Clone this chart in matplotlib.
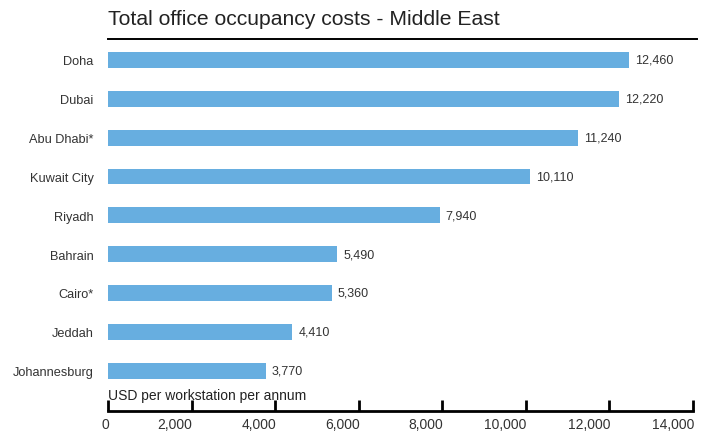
import matplotlib.pyplot as plt
from matplotlib.lines import Line2D
from matplotlib.ticker import FuncFormatter
import matplotlib.transforms as mtransforms

plt.rcParams['font.family'] = ['Liberation Sans', 'DejaVu Sans']

cities = ["Doha", "Dubai", "Abu Dhabi*", "Kuwait City", "Riyadh",
          "Bahrain", "Cairo*", "Jeddah", "Johannesburg"]
costs = [12460, 12220, 11240, 10110, 7940, 5490, 5360, 4410, 3770]
xticks = [0, 2000, 4000, 6000, 8000, 10000, 12000, 14000]

bar_color = "#67aee0"
text_color = "#333333"

fig = plt.figure(figsize=(7.08, 4.35), dpi=100)
W, H = 708, 435
ax = fig.add_axes([108 / W, (H - 412) / H, (693 - 108) / W, (412 - 40) / H])

pos = list(range(len(cities)))
ax.barh(pos, costs, height=0.41, color=bar_color)
for p, v in zip(pos, costs):
    ax.annotate(f"{v:,}", (v, p), xytext=(4.3, 0), textcoords="offset points",
                va="center", ha="left", fontsize=9, color=text_color)

ax.set_xlim(0, 14000)
ax.set_ylim(9.04, -0.54)
ax.set_yticks(pos)
ax.set_yticklabels(cities, fontsize=9.2, color=text_color)
ax.tick_params(axis="y", length=0, pad=10.5)

ax.set_xticks(xticks)
ax.xaxis.set_major_formatter(FuncFormatter(lambda x, _: f"{int(x):,}"))
ax.tick_params(axis="x", direction="in", length=8, width=2, labelsize=10,
               labelcolor=text_color, pad=4)
shift = mtransforms.ScaledTranslation(1 / 100, 0, fig.dpi_scale_trans)
for lab in ax.get_xticklabels():
    lab.set_horizontalalignment("right")
    lab.set_transform(lab.get_transform() + shift)

for side in ["top", "right", "left"]:
    ax.spines[side].set_visible(False)
ax.spines["bottom"].set_linewidth(2)

ax.text(0, 8.63, "USD per workstation per annum", va="center", ha="left",
        fontsize=10, color="#222222")

fig.text(108 / W, (H - 25) / H, "Total office occupancy costs - Middle East",
         fontsize=15.2, color="#222222", va="baseline", ha="left")
fig.add_artist(Line2D([108 / W, 697 / W], [(H - 40) / H] * 2,
                      color="black", lw=1.4, transform=fig.transFigure))

fig.savefig("out.png", dpi=100)
